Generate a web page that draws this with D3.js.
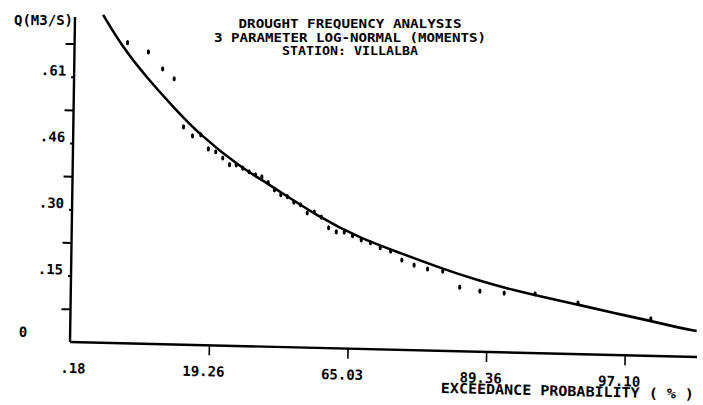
<!DOCTYPE html>
<html>
<head>
<meta charset="utf-8">
<script src="https://cdn.jsdelivr.net/npm/d3@7"></script>
<style>
  html, body { margin: 0; padding: 0; background: #fff; }
  svg { display: block; }
  text { font-family: "DejaVu Sans Mono", "Liberation Mono", monospace; font-weight: bold; fill: #000; }
</style>
</head>
<body>
<svg id="chart" width="703" height="405"></svg>
<script>
// ---- data ----
const titleLines = ["DROUGHT FREQUENCY ANALYSIS", "3 PARAMETER LOG-NORMAL (MOMENTS)", "STATION: VILLALBA"];
const yAxisTitle = "Q(M3/S)";
const xAxisTitle = "EXCEEDANCE PROBABILITY ( % )";

// x tick probabilities (%) and their labels
const xTickValues = [0.18, 19.26, 65.03, 89.36, 97.10];
const xTickLabels = [".18", "19.26", "65.03", "89.36", "97.10"];
// y labelled ticks and the unlabelled ticks between them
const yTickValues = [0, 0.152, 0.304, 0.456, 0.608];
const yTickLabels = ["0", ".15", ".30", ".46", ".61"];
const yMinorTicks = [0.076, 0.228, 0.380, 0.532, 0.684];

// observed flows: exceedance probability (%) and Q (m3/s)
const pointProb = [2.27, 4.55, 6.82, 9.09, 11.36, 13.64, 15.91, 18.18, 20.45, 22.73,
  25.00, 27.27, 29.55, 31.82, 34.09, 36.36, 38.64, 40.91, 43.18, 45.45,
  47.73, 50.00, 52.27, 54.55, 56.82, 59.09, 61.36, 63.64, 65.91, 68.18,
  70.45, 72.73, 75.00, 77.27, 79.55, 81.82, 84.09, 86.36, 88.64, 90.91,
  93.18, 95.45, 97.73];
const pointFlow = [0.689, 0.669, 0.631, 0.609, 0.499, 0.479, 0.482, 0.450, 0.444, 0.430,
  0.415, 0.415, 0.408, 0.400, 0.393, 0.389, 0.376, 0.360, 0.349, 0.345,
  0.333, 0.327, 0.309, 0.311, 0.300, 0.276, 0.267, 0.267, 0.259, 0.250,
  0.244, 0.233, 0.226, 0.206, 0.195, 0.187, 0.183, 0.147, 0.139, 0.136,
  0.136, 0.117, 0.085];

// fitted 3-parameter log-normal curve
const curveProb = [0.81, 1.92, 4.41, 9.35, 15.68, 28.6, 38.2, 56.4, 67.8, 76.9,
  83.7, 88.6, 91.6, 93.9, 95.53, 96.74, 97.64, 98.28, 98.54];
const curveFlow = [0.7515, 0.677, 0.6095, 0.540, 0.4817, 0.4106, 0.3754, 0.298, 0.2544, 0.2222,
  0.190, 0.1624, 0.1436, 0.1271, 0.1129, 0.0964, 0.0822, 0.0657, 0.0597];

// ---- drawing ----
const svg = d3.select("#chart");
const red = p => Math.log(-Math.log(p / 100)); // reduced variate of the probability paper

const x = d3.scaleLinear().domain([red(0.18), red(98.55)]).range([0, 627]);
const y = d3.scaleLinear().domain([0, 0.745]).range([0, -325]);
const px = p => x(red(p));

// the scanned plot is slightly skewed
const g = svg.append("g")
  .attr("transform", "translate(70,342) matrix(1,0.024,-0.0154,1,0,0)");

// axes lines
g.append("line").attr("x1", 0).attr("y1", 0).attr("x2", 627).attr("y2", 0)
  .attr("stroke", "#000").attr("stroke-width", 2.4);
g.append("line").attr("x1", 0).attr("y1", 0).attr("x2", 0).attr("y2", y(0.745))
  .attr("stroke", "#000").attr("stroke-width", 2.4);

// y axis: short ticks at labelled values, long ticks in between
const yMajor = g.append("g").call(d3.axisLeft(y).tickValues(yTickValues.slice(1)).tickSize(3).tickFormat(""));
const yMinor = g.append("g").call(d3.axisLeft(y).tickValues(yMinorTicks).tickSize(9).tickFormat(""));
[yMajor, yMinor].forEach(a => {
  a.select(".domain").remove();
  a.selectAll(".tick line").attr("stroke", "#000").attr("stroke-width", 2);
});
g.selectAll(".ylab").data(yTickValues).join("text")
  .attr("class", "ylab")
  .attr("x", (d, i) => i === 0 ? -43 : -8)
  .attr("y", (d, i) => y(d) + (i === 0 ? -4 : -1))
  .attr("text-anchor", "end")
  .attr("font-size", 14)
  .text((d, i) => yTickLabels[i]);

// x axis ticks (downward) and labels
const xAx = g.append("g").call(d3.axisBottom(x)
  .tickValues(xTickValues.slice(1).map(red)).tickSize(10).tickFormat(""));
xAx.select(".domain").remove();
xAx.selectAll(".tick line").attr("stroke", "#000").attr("stroke-width", 1.6);
g.selectAll(".xlab").data(xTickValues).join("text")
  .attr("class", "xlab")
  .attr("x", d => px(d) + 16)
  .attr("y", 31)
  .attr("text-anchor", "end")
  .attr("font-size", 14)
  .text((d, i) => xTickLabels[i]);

g.append("text")
  .attr("x", 498).attr("y", 42)
  .attr("text-anchor", "middle")
  .attr("font-size", 14)
  .attr("textLength", 253).attr("lengthAdjust", "spacingAndGlyphs")
  .text(xAxisTitle);

// fitted curve
const curveData = curveProb.map((p, i) => [p, curveFlow[i]]);
g.append("path")
  .datum(curveData)
  .attr("fill", "none")
  .attr("stroke", "#000")
  .attr("stroke-width", 2.6)
  .attr("d", d3.line().x(d => px(d[0])).y(d => y(d[1])).curve(d3.curveBasis));

// observed points
g.selectAll(".pt").data(pointProb).join("ellipse")
  .attr("class", "pt")
  .attr("cx", d => px(d))
  .attr("cy", (d, i) => y(pointFlow[i]))
  .attr("rx", 1.6).attr("ry", 2.6)
  .attr("fill", "#000");

// y axis title
svg.append("text")
  .attr("x", 73).attr("y", 25)
  .attr("text-anchor", "end")
  .attr("font-size", 14)
  .attr("textLength", 59).attr("lengthAdjust", "spacingAndGlyphs")
  .text(yAxisTitle);

// title
const titleWidths = [223, 272, 136];
svg.selectAll(".title").data(titleLines).join("text")
  .attr("class", "title")
  .attr("x", 350)
  .attr("y", (d, i) => 28 + i * 13.5)
  .attr("text-anchor", "middle")
  .attr("font-size", 11.5)
  .attr("textLength", (d, i) => titleWidths[i])
  .attr("lengthAdjust", "spacingAndGlyphs")
  .text(d => d);
</script>
</body>
</html>
